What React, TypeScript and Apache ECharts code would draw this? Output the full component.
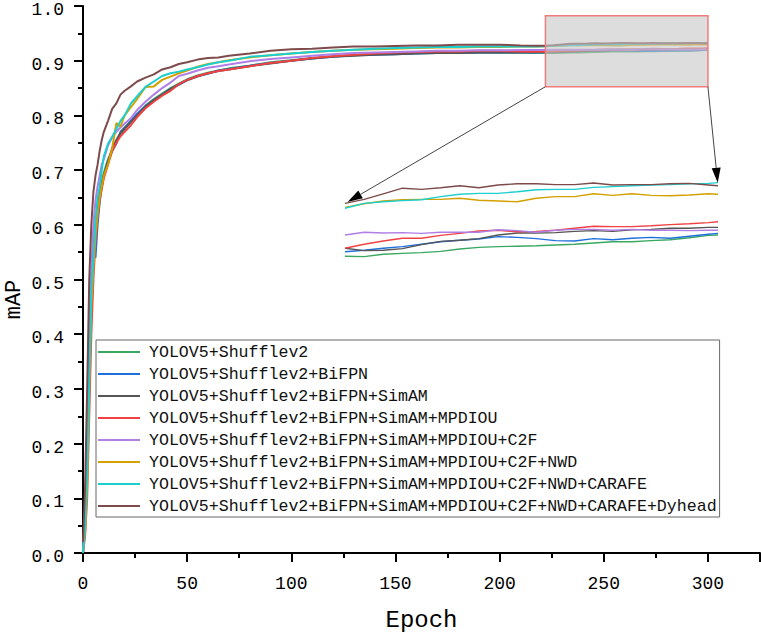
import React, { useEffect, useRef } from "react";
import * as echarts from "echarts";

const epochs = [
  0, 1, 2, 3, 4, 5, 6, 7, 8, 9, 10, 12, 14, 16, 18, 20, 23, 26, 30, 34, 38, 42, 46, 50, 55, 60, 65, 70,
  80, 90, 100, 110, 120, 130, 140, 150, 160, 170, 180, 190, 200, 210, 218,
  222, 226, 230, 234, 238, 242, 246, 250, 254, 258, 262, 266, 270, 274, 278, 282, 286, 290, 294, 298, 300,
];

const seriesNames = [
  "YOLOV5+Shufflev2",
  "YOLOV5+Shufflev2+BiFPN",
  "YOLOV5+Shufflev2+BiFPN+SimAM",
  "YOLOV5+Shufflev2+BiFPN+SimAM+MPDIOU",
  "YOLOV5+Shufflev2+BiFPN+SimAM+MPDIOU+C2F",
  "YOLOV5+Shufflev2+BiFPN+SimAM+MPDIOU+C2F+NWD",
  "YOLOV5+Shufflev2+BiFPN+SimAM+MPDIOU+C2F+NWD+CARAFE",
  "YOLOV5+Shufflev2+BiFPN+SimAM+MPDIOU+C2F+NWD+CARAFE+Dyhead",
];

const seriesColors = ["#3aa862", "#1f6fdc", "#555555", "#f04242", "#b07fe6", "#d4a000", "#1ccfcf", "#7d4b4b"];

const mapShufflev2 = [
  0, 0.08, 0.22, 0.38, 0.5, 0.56, 0.6, 0.63, 0.66, 0.68, 0.695, 0.72, 0.735, 0.752, 0.765, 0.775, 0.79, 0.8,
  0.818, 0.83, 0.84, 0.85, 0.858, 0.866, 0.873, 0.878, 0.882, 0.886, 0.891, 0.897, 0.901, 0.905, 0.908, 0.91,
  0.912, 0.913, 0.914, 0.915, 0.915, 0.915, 0.915, 0.9145, 0.914,
  0.9142, 0.9141, 0.9147, 0.9149, 0.9151, 0.9154, 0.916, 0.9164, 0.9166, 0.9167, 0.9168, 0.917, 0.9172, 0.9175,
  0.9178, 0.9178, 0.9181, 0.9183, 0.9188, 0.9194, 0.9195,
];
const mapBiFPN = [
  0, 0.06, 0.18, 0.35, 0.48, 0.55, 0.54, 0.6, 0.64, 0.67, 0.69, 0.715, 0.735, 0.748, 0.77, 0.778, 0.79, 0.803,
  0.817, 0.828, 0.838, 0.848, 0.856, 0.865, 0.872, 0.876, 0.882, 0.885, 0.891, 0.896, 0.9, 0.904, 0.907, 0.91,
  0.911, 0.912, 0.913, 0.914, 0.914, 0.915, 0.915, 0.915, 0.9152,
  0.9153, 0.9157, 0.9162, 0.9166, 0.9172, 0.9178, 0.9182, 0.9185, 0.9191, 0.9189, 0.9186, 0.9181, 0.918, 0.9186,
  0.9183, 0.9187, 0.9189, 0.9187, 0.9192, 0.9197, 0.9199,
];
const mapSimAM = [
  0, 0.07, 0.2, 0.36, 0.49, 0.56, 0.6, 0.63, 0.655, 0.675, 0.69, 0.715, 0.74, 0.755, 0.768, 0.776, 0.788, 0.8,
  0.816, 0.828, 0.838, 0.848, 0.857, 0.864, 0.871, 0.877, 0.881, 0.884, 0.89, 0.895, 0.9, 0.904, 0.907, 0.909,
  0.911, 0.912, 0.913, 0.914, 0.914, 0.915, 0.915, 0.9155, 0.916,
  0.9162, 0.9156, 0.9157, 0.9161, 0.9171, 0.9179, 0.9182, 0.9186, 0.9195, 0.92, 0.92, 0.9201, 0.9204, 0.9206,
  0.9204, 0.9208, 0.9209, 0.9212, 0.9212, 0.9214, 0.9214,
];
const mapMPDIOU = [
  0, 0.03, 0.1, 0.25, 0.4, 0.5, 0.57, 0.615, 0.645, 0.665, 0.685, 0.71, 0.735, 0.75, 0.762, 0.77, 0.782, 0.797,
  0.813, 0.825, 0.836, 0.845, 0.857, 0.865, 0.872, 0.877, 0.881, 0.884, 0.89, 0.896, 0.9, 0.905, 0.908, 0.911,
  0.913, 0.915, 0.916, 0.917, 0.917, 0.918, 0.918, 0.917, 0.9165,
  0.9162, 0.9172, 0.918, 0.9187, 0.9187, 0.9194, 0.9199, 0.9205, 0.9207, 0.9203, 0.9204, 0.9207, 0.9212, 0.9217,
  0.9216, 0.9216, 0.9218, 0.9221, 0.9223, 0.9226, 0.9228,
];
const mapC2F = [
  0, 0.06, 0.2, 0.4, 0.52, 0.6, 0.645, 0.67, 0.69, 0.71, 0.72, 0.745, 0.76, 0.77, 0.778, 0.785, 0.795, 0.81,
  0.825, 0.838, 0.85, 0.86, 0.872, 0.876, 0.882, 0.887, 0.89, 0.893, 0.899, 0.903, 0.906, 0.909, 0.912, 0.914,
  0.915, 0.916, 0.917, 0.918, 0.918, 0.919, 0.919, 0.9195, 0.9195,
  0.9195, 0.9202, 0.92, 0.9201, 0.9199, 0.9202, 0.9202, 0.9202, 0.9208, 0.9206, 0.9202, 0.9207, 0.9209, 0.9209,
  0.9207, 0.9209, 0.9207, 0.9207, 0.9206, 0.9207, 0.9207,
];
const mapNWD = [
  0, 0.04, 0.12, 0.3, 0.45, 0.52, 0.58, 0.62, 0.65, 0.67, 0.69, 0.71, 0.74, 0.786, 0.78, 0.8, 0.815, 0.83,
  0.852, 0.853, 0.865, 0.871, 0.877, 0.882, 0.889, 0.894, 0.897, 0.901, 0.906, 0.91, 0.913, 0.916, 0.918, 0.92,
  0.921, 0.922, 0.923, 0.924, 0.924, 0.925, 0.925, 0.926, 0.926,
  0.9264, 0.9273, 0.928, 0.9283, 0.9284, 0.9284, 0.9287, 0.9282, 0.928, 0.9278, 0.9287, 0.9291, 0.9291, 0.9298,
  0.9294, 0.9298, 0.9294, 0.9293, 0.9295, 0.9298, 0.9297,
];
const mapCARAFE = [
  0, 0.05, 0.15, 0.32, 0.48, 0.54, 0.61, 0.65, 0.67, 0.7, 0.725, 0.748, 0.761, 0.775, 0.79, 0.8, 0.822, 0.835,
  0.852, 0.862, 0.872, 0.877, 0.88, 0.884, 0.888, 0.893, 0.897, 0.9, 0.907, 0.91, 0.913, 0.916, 0.918, 0.92,
  0.922, 0.923, 0.924, 0.925, 0.925, 0.926, 0.926, 0.926, 0.926,
  0.9262, 0.9274, 0.9278, 0.9281, 0.9283, 0.9291, 0.9297, 0.9299, 0.9299, 0.9303, 0.9308, 0.9309, 0.9309, 0.9314,
  0.9316, 0.9318, 0.932, 0.9321, 0.9323, 0.9324, 0.9326,
];
const mapDyhead = [
  0.02, 0.12, 0.3, 0.5, 0.6, 0.66, 0.69, 0.71, 0.735, 0.755, 0.77, 0.79, 0.812, 0.822, 0.838, 0.845, 0.853, 0.862,
  0.869, 0.875, 0.884, 0.888, 0.894, 0.897, 0.902, 0.905, 0.906, 0.909, 0.913, 0.918, 0.921, 0.922, 0.924, 0.926,
  0.926, 0.927, 0.928, 0.928, 0.929, 0.929, 0.929, 0.928, 0.9275,
  0.9274, 0.9284, 0.9298, 0.9312, 0.9309, 0.9313, 0.9318, 0.9313, 0.932, 0.9323, 0.9323, 0.9321, 0.9321, 0.9325,
  0.932, 0.9321, 0.9321, 0.9323, 0.9324, 0.932, 0.9318,
];

const seriesValues = [mapShufflev2, mapBiFPN, mapSimAM, mapMPDIOU, mapC2F, mapNWD, mapCARAFE, mapDyhead];

// Axis ranges
const xRange = [0, 325];
const xInterval = 50;
const yRange = [0, 1];
const yInterval = 0.1;

// Zoom window in data space and the magnified inset ranges
const zoomEpochs = [222, 300];
const zoomMap = [0.8525, 0.982];
const insetEpochs = [222, 300];
const insetMap = [0.905, 0.94];

const MONO = "'Liberation Mono', 'DejaVu Sans Mono', monospace";

export default function App() {
  const ref = useRef<HTMLDivElement>(null);

  useEffect(() => {
    if (!ref.current) return;
    const chart = echarts.init(ref.current, undefined, { renderer: "svg" });

    const mainSeries = seriesNames.map((name, i) => ({
      type: "line",
      name,
      xAxisIndex: 0,
      yAxisIndex: 0,
      data: epochs.map((e, j) => [e, seriesValues[i][j]]),
      symbol: "none",
      showSymbol: false,
      lineStyle: { width: 2, color: seriesColors[i] },
      itemStyle: { color: seriesColors[i] },
      z: 2 + i,
    }));
    const insetSeries = seriesNames.map((name, i) => ({
      type: "line",
      name,
      xAxisIndex: 1,
      yAxisIndex: 1,
      data: epochs
        .map((e, j) => [e, seriesValues[i][j]])
        .filter((p) => p[0] >= insetEpochs[0] && p[0] <= insetEpochs[1]),
      symbol: "none",
      showSymbol: false,
      lineStyle: { width: 1.4, color: seriesColors[i] },
      itemStyle: { color: seriesColors[i] },
      z: 2 + i,
    }));

    const axisCommon = {
      axisLine: { show: true, onZero: false, lineStyle: { color: "#000", width: 2 } },
      axisTick: { show: true, length: 9, lineStyle: { color: "#000", width: 2 } },
      minorTick: { show: true, splitNumber: 2, length: 5, lineStyle: { color: "#000", width: 2 } },
      splitLine: { show: false },
      minorSplitLine: { show: false },
    };

    const option: any = {
      animation: false,
      backgroundColor: "#fff",
      grid: [
        { left: 83, right: 1, top: 6, bottom: 80, containLabel: false, outerBoundsMode: "none" },
        { left: 345, width: 373, top: 153, height: 140, containLabel: false, outerBoundsMode: "none" },
      ],
      xAxis: [
        {
          type: "value",
          gridIndex: 0,
          min: xRange[0],
          max: xRange[1],
          interval: xInterval,
          ...axisCommon,
          axisLabel: {
            color: "#000",
            fontFamily: MONO,
            fontSize: 18,
            margin: 22,
            showMaxLabel: false,
            formatter: (v: number) => (v % xInterval === 0 ? String(v) : ""),
          },
          name: "Epoch",
          nameLocation: "middle",
          nameGap: 55,
          nameMoveOverlap: false,
          nameTextStyle: { color: "#000", fontFamily: MONO, fontSize: 24 },
        },
        { type: "value", gridIndex: 1, min: insetEpochs[0], max: insetEpochs[1], show: false },
      ],
      yAxis: [
        {
          type: "value",
          gridIndex: 0,
          min: yRange[0],
          max: yRange[1],
          interval: yInterval,
          ...axisCommon,
          axisLabel: {
            color: "#000",
            fontFamily: MONO,
            fontSize: 18,
            margin: 19,
            verticalAlign: "top",
            lineHeight: 8,
            formatter: (v: number) => v.toFixed(1),
          },
          name: "mAP",
          nameLocation: "middle",
          nameGap: 58,
          nameMoveOverlap: false,
          nameTextStyle: { color: "#000", fontFamily: MONO, fontSize: 22, padding: [0, 40, 0, 0] },
        },
        { type: "value", gridIndex: 1, min: insetMap[0], max: insetMap[1], show: false, scale: true },
      ],
      legend: {
        data: seriesNames,
        orient: "vertical",
        left: 96,
        top: 340,
        icon: "rect",
        itemWidth: 42,
        itemHeight: 2,
        itemGap: 4,
        padding: [3, 3, 2, 2],
        borderColor: "#666",
        borderWidth: 1,
        borderRadius: 0,
        backgroundColor: "#fff",
        selectedMode: false,
        textStyle: { color: "#111", fontFamily: MONO, fontSize: 16.6, lineHeight: 18, padding: [0, 0, 0, 4] },
      },
      series: [...mainSeries, ...insetSeries],
    };

    chart.setOption(option);

    // Annotation: zoom window and arrows to inset, placed via library scales
    const tl = chart.convertToPixel({ gridIndex: 0 }, [zoomEpochs[0], zoomMap[1]]) as number[];
    const bl = chart.convertToPixel({ gridIndex: 0 }, [zoomEpochs[0], zoomMap[0]]) as number[];
    const br = chart.convertToPixel({ gridIndex: 0 }, [zoomEpochs[1], zoomMap[0]]) as number[];
    const dy = insetSeries[7].data;
    const leftT = chart.convertToPixel({ gridIndex: 1 }, dy[0]) as number[];
    const rightT = chart.convertToPixel({ gridIndex: 1 }, dy[dy.length - 1]) as number[];

    const arrow = (from: number[], to: number[]) => {
      const dx = to[0] - from[0];
      const dyv = to[1] - from[1];
      const len = Math.sqrt(dx * dx + dyv * dyv);
      const ux = dx / len;
      const uy = dyv / len;
      const tip = [to[0] - ux * 3, to[1] - uy * 3];
      const base = [tip[0] - ux * 15, tip[1] - uy * 15];
      const nx = -uy;
      const ny = ux;
      return [
        {
          type: "line",
          shape: { x1: from[0], y1: from[1], x2: base[0], y2: base[1] },
          style: { stroke: "#444", lineWidth: 1 },
          z: 101,
        },
        {
          type: "polygon",
          shape: {
            points: [tip, [base[0] + nx * 4.5, base[1] + ny * 4.5], [base[0] - nx * 4.5, base[1] - ny * 4.5]],
          },
          style: { fill: "#000" },
          z: 101,
        },
      ];
    };

    chart.setOption({
      graphic: [
        {
          type: "rect",
          shape: { x: tl[0], y: tl[1], width: br[0] - bl[0], height: bl[1] - tl[1] },
          style: { fill: "rgba(198,198,198,0.6)", stroke: "#f07c7c", lineWidth: 1.5 },
          z: 100,
        },
        ...arrow(bl, leftT),
        ...arrow(br, rightT),
      ],
    });

    return () => chart.dispose();
  }, []);

  return <div ref={ref} style={{ position: "absolute", left: 0, top: 0, width: 761, height: 633 }} />;
}
